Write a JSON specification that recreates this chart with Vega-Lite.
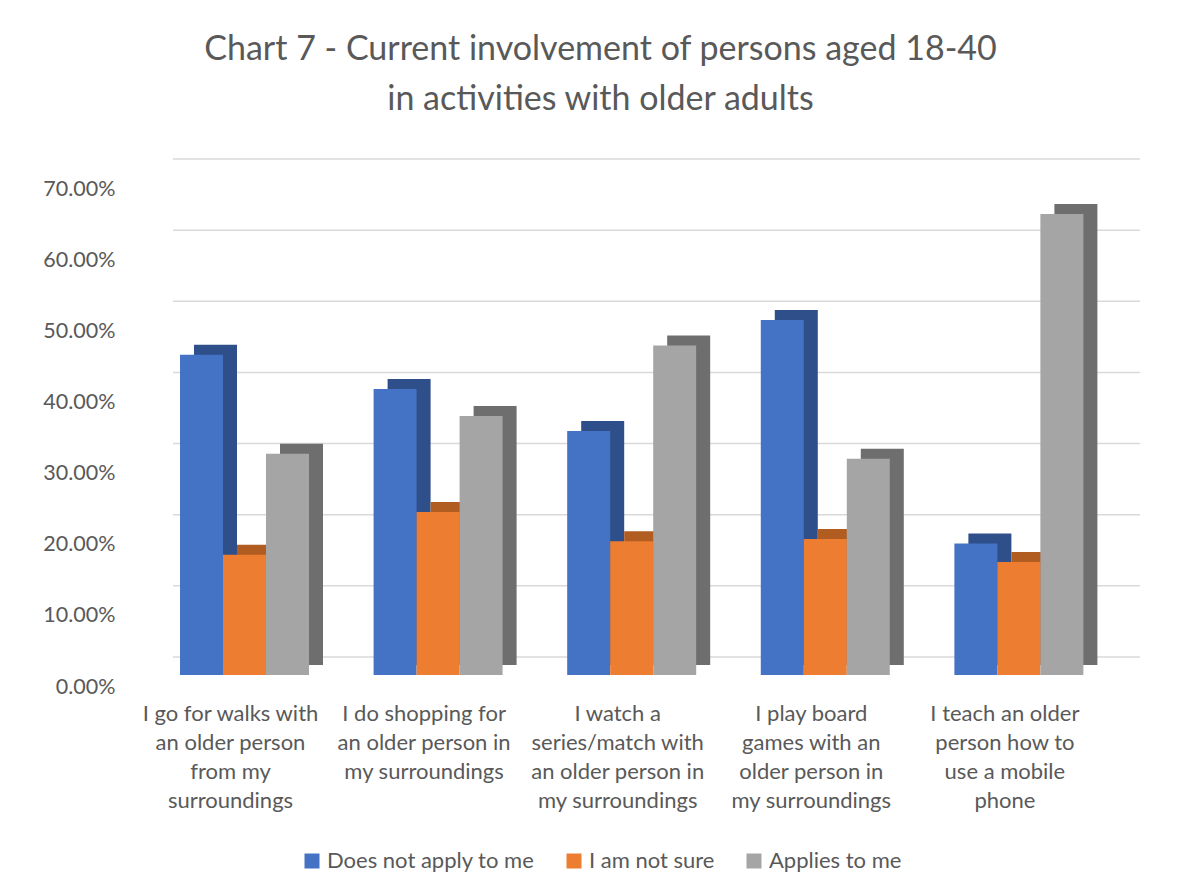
{
  "$schema": "https://vega.github.io/schema/vega-lite/v6.json",
  "width": 967,
  "height": 498,
  "autosize": {"type": "none"},
  "padding": {"left": 173, "top": 177, "right": 45, "bottom": 219},
  "background": "white",
  "config": {
    "font": "Lato",
    "view": {"stroke": null}
  },
  "title": {
    "text": ["Chart 7 - Current involvement of persons aged 18-40", "in activities with older adults"],
    "fontSize": 34,
    "fontWeight": "normal",
    "color": "#595959",
    "font": "Lato",
    "lineHeight": 50,
    "anchor": "middle",
    "dx": -56,
    "offset": 41
  },
  "datasets": {
    "bars": [
      {"activity": "I go for walks with|an older person|from my|surroundings", "series": "Does not apply to me", "share": 0.450},
      {"activity": "I go for walks with|an older person|from my|surroundings", "series": "I am not sure", "share": 0.169},
      {"activity": "I go for walks with|an older person|from my|surroundings", "series": "Applies to me", "share": 0.311},
      {"activity": "I do shopping for|an older person in|my surroundings", "series": "Does not apply to me", "share": 0.402},
      {"activity": "I do shopping for|an older person in|my surroundings", "series": "I am not sure", "share": 0.229},
      {"activity": "I do shopping for|an older person in|my surroundings", "series": "Applies to me", "share": 0.364},
      {"activity": "I watch a|series/match with|an older person in|my surroundings", "series": "Does not apply to me", "share": 0.343},
      {"activity": "I watch a|series/match with|an older person in|my surroundings", "series": "I am not sure", "share": 0.188},
      {"activity": "I watch a|series/match with|an older person in|my surroundings", "series": "Applies to me", "share": 0.463},
      {"activity": "I play board|games with an|older person in|my surroundings", "series": "Does not apply to me", "share": 0.499},
      {"activity": "I play board|games with an|older person in|my surroundings", "series": "I am not sure", "share": 0.191},
      {"activity": "I play board|games with an|older person in|my surroundings", "series": "Applies to me", "share": 0.304},
      {"activity": "I teach an older|person how to|use a mobile|phone", "series": "Does not apply to me", "share": 0.185},
      {"activity": "I teach an older|person how to|use a mobile|phone", "series": "I am not sure", "share": 0.159},
      {"activity": "I teach an older|person how to|use a mobile|phone", "series": "Applies to me", "share": 0.648}
    ],
    "grid": [{"v": 0}, {"v": 0.1}, {"v": 0.2}, {"v": 0.3}, {"v": 0.4}, {"v": 0.5}, {"v": 0.6}, {"v": 0.7}]
  },
  "layer": [
    {
      "data": {"name": "grid"},
      "mark": {"type": "rule", "color": "#D9D9D9", "strokeWidth": 1.5, "yOffset": -18},
      "encoding": {
        "y": {"field": "v", "type": "quantitative", "scale": {"domain": [0, 0.7]},
              "axis": {"title": null, "format": ".2%", "values": [0, 0.1, 0.2, 0.3, 0.4, 0.5, 0.6, 0.7],
                       "domain": false, "ticks": false, "tickSize": 0, "grid": false,
                       "labelFontSize": 21.5, "labelColor": "#595959", "labelPadding": 58, "labelOffset": 12}}
      }
    },
    {
      "data": {"name": "bars"},
      "mark": {"type": "bar", "yOffset": -10, "y2Offset": -10},
      "encoding": {
        "x": {"field": "activity", "type": "nominal", "sort": null,
              "scale": {"paddingInner": 0.3337, "paddingOuter": 0.1643, "align": 0.11},
              "axis": {"title": null, "labelAngle": 0, "domain": false, "ticks": false, "tickSize": 0,
                       "labelExpr": "split(datum.label, '|')", "labelFontSize": 22, "labelLineHeight": 29,
                       "labelColor": "#595959", "labelPadding": 28, "labelOffset": -14,
                       "labelBaseline": "top", "labelLimit": 400}},
        "xOffset": {"field": "series", "type": "nominal",
                    "sort": ["Does not apply to me", "I am not sure", "Applies to me"],
                    "scale": {"range": [14, 143], "paddingInner": 0, "paddingOuter": 0}},
        "y": {"field": "share", "type": "quantitative", "scale": {"domain": [0, 0.7]},
              "axis": {"title": null, "format": ".2%", "values": [0, 0.1, 0.2, 0.3, 0.4, 0.5, 0.6, 0.7],
                       "domain": false, "ticks": false, "tickSize": 0, "grid": false,
                       "labelFontSize": 21.5, "labelColor": "#595959", "labelPadding": 58, "labelOffset": 12}},
        "color": {"field": "series", "type": "nominal", "legend": null,
                  "scale": {"domain": ["Does not apply to me", "I am not sure", "Applies to me"],
                            "range": ["#2E4F8A", "#B15D22", "#6E6E6E"]}}
      }
    },
    {
      "data": {"name": "bars"},
      "mark": {"type": "bar"},
      "encoding": {
        "x": {"field": "activity", "type": "nominal", "sort": null,
              "scale": {"paddingInner": 0.3337, "paddingOuter": 0.1643, "align": 0.11},
              "axis": {"title": null, "labelAngle": 0, "domain": false, "ticks": false, "tickSize": 0,
                       "labelExpr": "split(datum.label, '|')", "labelFontSize": 22, "labelLineHeight": 29,
                       "labelColor": "#595959", "labelPadding": 28, "labelOffset": -14,
                       "labelBaseline": "top", "labelLimit": 400}},
        "xOffset": {"field": "series", "type": "nominal",
                    "sort": ["Does not apply to me", "I am not sure", "Applies to me"],
                    "scale": {"paddingInner": 0, "paddingOuter": 0}},
        "y": {"field": "share", "type": "quantitative", "scale": {"domain": [0, 0.7]},
              "axis": {"title": null, "format": ".2%", "values": [0, 0.1, 0.2, 0.3, 0.4, 0.5, 0.6, 0.7],
                       "domain": false, "ticks": false, "tickSize": 0, "grid": false,
                       "labelFontSize": 21.5, "labelColor": "#595959", "labelPadding": 58, "labelOffset": 12}},
        "color": {"field": "series", "type": "nominal",
                  "scale": {"domain": ["Does not apply to me", "I am not sure", "Applies to me"],
                            "range": ["#4472C4", "#ED7D31", "#A5A5A5"]},
                  "legend": {"orient": "none", "direction": "horizontal", "legendX": 128, "legendY": 673,
                             "title": null, "symbolType": "square", "symbolSize": 225, "symbolStrokeWidth": 0,
                             "labelFontSize": 22, "labelColor": "#595959", "columnPadding": 28, "labelOffset": 4,
                             "labelLimit": 400}}
      }
    }
  ],
  "resolve": {"scale": {"color": "independent", "xOffset": "independent"}}
}
